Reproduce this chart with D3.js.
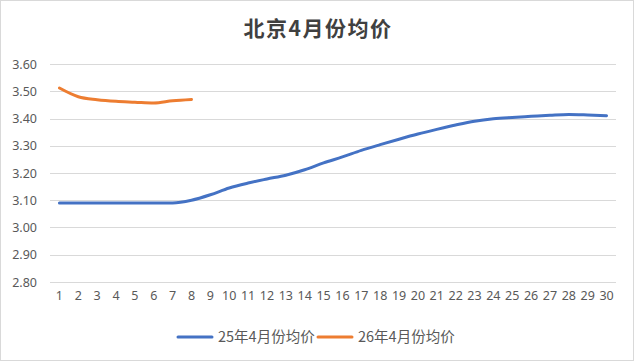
<!DOCTYPE html>
<html>
<head>
<meta charset="utf-8">
<script src="https://cdn.jsdelivr.net/npm/d3@7"></script>
<style>
  body { margin: 0; background: #fff; }
  text { font-family: "Noto Sans CJK SC", "Noto Sans", sans-serif; }
</style>
</head>
<body>
<div id="chart"></div>
<script>
// days of April
const days = d3.range(1, 31)
const yTicks = [2.8, 2.9, 3.0, 3.1, 3.2, 3.3, 3.4, 3.5, 3.6]

const series25 = [3.09, 3.09, 3.09, 3.09, 3.09, 3.09, 3.09, 3.10, 3.12, 3.145,
                  3.163, 3.178, 3.192, 3.212, 3.237, 3.259, 3.283, 3.304, 3.324, 3.343,
                  3.36, 3.376, 3.39, 3.399, 3.404, 3.408, 3.412, 3.415, 3.413, 3.41]
const series26 = [3.512, 3.48, 3.469, 3.463, 3.46, 3.457, 3.465, 3.47]

const seriesNames = ["25年4月份均价", "26年4月份均价"]
const colors = ["#4472C4", "#ED7D31"]

const width = 635, height = 362
const margin = {top: 64, right: 19, bottom: 80, left: 50}

const svg = d3.select("#chart").append("svg")
    .attr("width", width).attr("height", height)

// chart frame
svg.append("rect")
    .attr("x", 0.5).attr("y", 0.5)
    .attr("width", width - 2).attr("height", height - 2)
    .attr("fill", "#fff").attr("stroke", "#d9d9d9")

svg.append("text")
    .attr("x", 318).attr("y", 36)
    .attr("text-anchor", "middle")
    .attr("font-size", 21).attr("font-weight", "bold")
    .attr("letter-spacing", 1.5)
    .attr("fill", "#404040")
    .text("北京4月份均价")

const x = d3.scaleBand()
    .domain(days)
    .range([margin.left, width - margin.right])

const y = d3.scaleLinear()
    .domain([2.8, 3.6])
    .range([height - margin.bottom, margin.top])

// gridlines
svg.append("g")
    .selectAll("line").data(yTicks).join("line")
    .attr("x1", margin.left).attr("x2", width - margin.right)
    .attr("y1", d => Math.round(y(d)) + 0.5).attr("y2", d => Math.round(y(d)) + 0.5)
    .attr("stroke", "#d9d9d9")

const gy = svg.append("g")
    .attr("transform", `translate(${margin.left - 10},0)`)
    .call(d3.axisLeft(y).tickValues(yTicks).tickFormat(d3.format(".2f")).tickSize(0))
gy.select(".domain").remove()

const gx = svg.append("g")
    .attr("transform", `translate(0,${height - margin.bottom + 14})`)
    .call(d3.axisBottom(x).tickSize(0))
gx.select(".domain").remove()

svg.selectAll(".tick text")
    .attr("font-size", 12.5)
    .attr("fill", "#595959")
    .style("font-family", "\"Noto Sans\", sans-serif")
gx.selectAll(".tick text").attr("dy", "0.32em").attr("y", 0)

const line = d3.line()
    .x((d, i) => x(days[i]) + x.bandwidth() / 2)
    .y(d => y(d))
    .curve(d3.curveMonotoneX)

;[series25, series26].forEach((s, i) => {
    svg.append("path")
        .datum(s)
        .attr("fill", "none")
        .attr("stroke", colors[i])
        .attr("stroke-width", 3)
        .attr("stroke-linecap", "round")
        .attr("d", line)
})

// legend
const legendX = [178, 318]
const legend = svg.append("g")
seriesNames.forEach((name, i) => {
    legend.append("line")
        .attr("x1", legendX[i]).attr("x2", legendX[i] + 34)
        .attr("y1", 337).attr("y2", 337)
        .attr("stroke", colors[i]).attr("stroke-width", 3)
        .attr("stroke-linecap", "round")
    legend.append("text")
        .attr("x", legendX[i] + 40).attr("y", 337)
        .attr("dy", "0.35em")
        .attr("font-size", 14.5).attr("fill", "#595959")
        .text(name)
})
</script>
</body>
</html>
